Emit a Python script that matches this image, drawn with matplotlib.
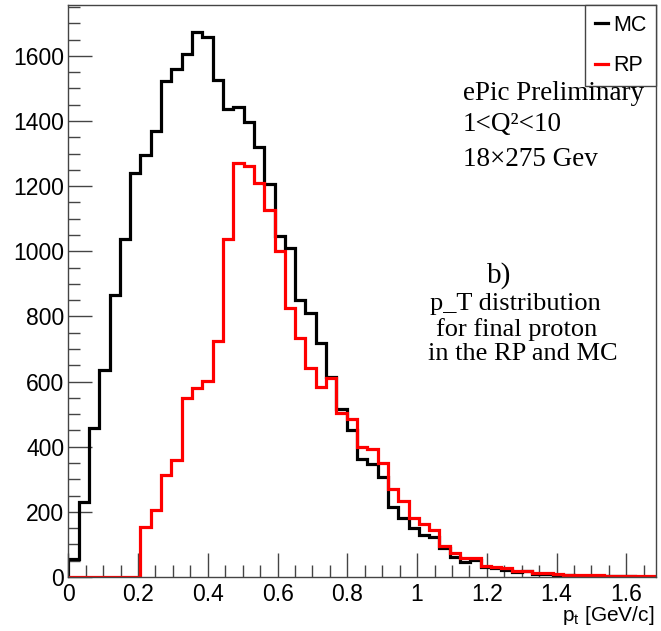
"""p_T distribution of the final proton: MC vs RP (ROOT-style histogram)."""

import matplotlib.pyplot as plt
import numpy as np
from matplotlib.ticker import MultipleLocator

# Bin layout: 57 bins from 0 to ~1.685 GeV/c
n_bins = 57
x_max = 1.685

# Bin contents
mc_counts = [
    55, 229, 458, 635, 865, 1038, 1241, 1294, 1369, 1522,
    1560, 1607, 1674, 1658, 1525, 1436, 1442, 1397, 1321, 1206,
    1047, 1009, 850, 809, 719, 613, 516, 451, 361, 347,
    308, 216, 180, 151, 129, 122, 88, 62, 45, 52,
    32, 28, 22, 16, 17, 8, 9, 6, 5, 4,
    4, 3, 3, 2, 2, 1, 1,
]
rp_counts = [
    0, 0, 0, 0, 0, 0, 0, 154, 206, 313,
    359, 551, 579, 603, 724, 1039, 1270, 1261, 1210, 1126,
    1002, 825, 735, 643, 584, 612, 505, 485, 400, 392,
    349, 270, 233, 182, 163, 144, 96, 73, 59, 59,
    35, 32, 27, 19, 19, 11, 11, 8, 7, 6,
    5, 5, 4, 4, 3, 3, 3,
]

plt.rcParams["mathtext.fontset"] = "custom"
plt.rcParams["mathtext.rm"] = "Liberation Sans"
plt.rcParams["mathtext.sf"] = "Liberation Sans"

W, H = 661, 631
fig = plt.figure(figsize=(W / 100, H / 100), dpi=100)
ax = fig.add_axes([68.3 / W, 1 - 577 / H, (656 - 68.3) / W, (577 - 5) / H])

edges = np.linspace(0, x_max, n_bins + 1)
ax.stairs(mc_counts, edges, color="black", lw=2.3, label="MC", zorder=3)
ax.stairs(rp_counts, edges, color="#ff0000", lw=2.3, label="RP", zorder=4)

ax.set_xlim(0, x_max)
ax.set_ylim(0, 1756)

# ROOT-like ticks: inward, only bottom/left
ax.xaxis.set_major_locator(MultipleLocator(0.2))
ax.xaxis.set_minor_locator(MultipleLocator(0.05))
ax.yaxis.set_major_locator(MultipleLocator(200))
ax.yaxis.set_minor_locator(MultipleLocator(50))
ax.tick_params(which="both", direction="in", color="#444444", width=1.0,
               top=False, right=False)
ax.tick_params(which="major", length=17)
ax.tick_params(which="minor", length=8.5)
ax.tick_params(axis="x", pad=4)
ax.tick_params(axis="y", pad=3)
ax.set_xticks([0, 0.2, 0.4, 0.6, 0.8, 1.0, 1.2, 1.4, 1.6],
              ["0", "0.2", "0.4", "0.6", "0.8", "1", "1.2", "1.4", "1.6"])
for lab in ax.get_xticklabels() + ax.get_yticklabels():
    lab.set_fontfamily("Liberation Sans")
    lab.set_fontsize(16.5)
for sp in ax.spines.values():
    sp.set_color("#444444")
    sp.set_linewidth(1.0)
    sp.set_zorder(5)

leg = ax.legend(loc="upper right", bbox_to_anchor=(1, 1), borderaxespad=0,
                fancybox=False, edgecolor="#444444", framealpha=1,
                handlelength=0.6, handletextpad=0.25, labelspacing=0.9,
                borderpad=0.45, prop={"family": "Liberation Sans", "size": 15.5})
leg.get_frame().set_linewidth(1.0)


def px_text(x, y, s, **kw):
    """Place text by pixel position (origin top-left)."""
    fig.text(x / W, 1 - y / H, s, va="baseline", family="Liberation Serif", **kw)


px_text(463, 100, "ePic Preliminary", fontsize=19.5)
px_text(463, 131, "1<Q²<10", fontsize=19.5)
px_text(463, 166, "18×275 Gev", fontsize=19.5)
px_text(487, 283, "b)", fontsize=21)
px_text(430, 310, "p_T distribution", fontsize=19)
px_text(436, 336, "for final proton", fontsize=19)
px_text(428, 360, "in the RP and MC", fontsize=19)

fig.text(654 / W, 1 - 621 / H, r"p$_{\mathsf{t}}$ [GeV/c]", ha="right",
         va="baseline", family="Liberation Sans", fontsize=15)

fig.savefig("out.png", dpi=100)
